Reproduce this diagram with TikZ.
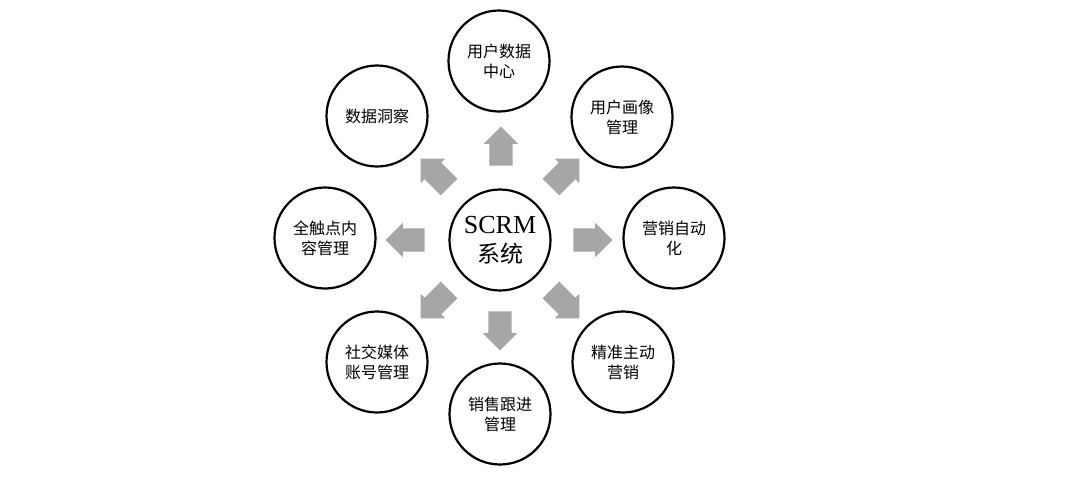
\documentclass[tikz,border=0pt]{standalone}
\usepackage{fontspec}
\setmainfont{Liberation Serif}
\newfontfamily\cjk{Noto Sans CJK SC}
\usetikzlibrary{shapes.arrows}
\definecolor{arrowgray}{HTML}{A6A6A6}
\begin{document}
\begin{tikzpicture}[x=1pt,y=-1pt,
  circ/.style={circle, draw=black, line width=2.2pt, minimum size=101pt, inner sep=0pt, align=center,
    font=\cjk\fontsize{16}{20}\selectfont},
  hub/.style={circ, font=\fontsize{26}{29}\selectfont},
  blockarrow/.style={single arrow, fill=arrowgray, draw=none,
    single arrow head extend=5.5pt, single arrow head indent=0pt, inner xsep=0pt, inner ysep=11.5pt,
    minimum height=39pt}]
\useasboundingbox (0,0) rectangle (1080,485);
\fill[white] (0,0) rectangle (1080,485);
\node[hub] (c) at (500,240) {SCRM\\{\cjk\fontsize{23}{29}\selectfont 系统}};
\node[circ] (t) at (499,61) {用户数据\\中心};
\node[circ] (ul) at (377,116) {数据洞察};
\node[circ] (ur) at (622,117) {用户画像\\管理};
\node[circ] (l) at (325,238) {全触点内\\容管理};
\node[circ] (r) at (674,238) {营销自动\\化};
\node[circ] (ll) at (377,362) {社交媒体\\账号管理};
\node[circ] (lr) at (623,362) {精准主动\\营销};
\node[circ] (b) at (500,414) {销售跟进\\管理};
\node[blockarrow, rotate=90] (a1) at (501,152) {};
\node[blockarrow, rotate=270] (a5) at (500,325) {};
\node[blockarrow, rotate=180] (a7) at (411,240) {};
\node[blockarrow, rotate=0] (a3) at (587,240) {};
\node[blockarrow, minimum height=40pt, rotate=135] (a8) at (439,177) {};
\node[blockarrow, minimum height=40pt, rotate=45] (a2) at (561,177) {};
\node[blockarrow, minimum height=40pt, rotate=225] (a6) at (439,300) {};
\node[blockarrow, minimum height=40pt, rotate=315] (a4) at (561,300) {};
\end{tikzpicture}
\end{document}
